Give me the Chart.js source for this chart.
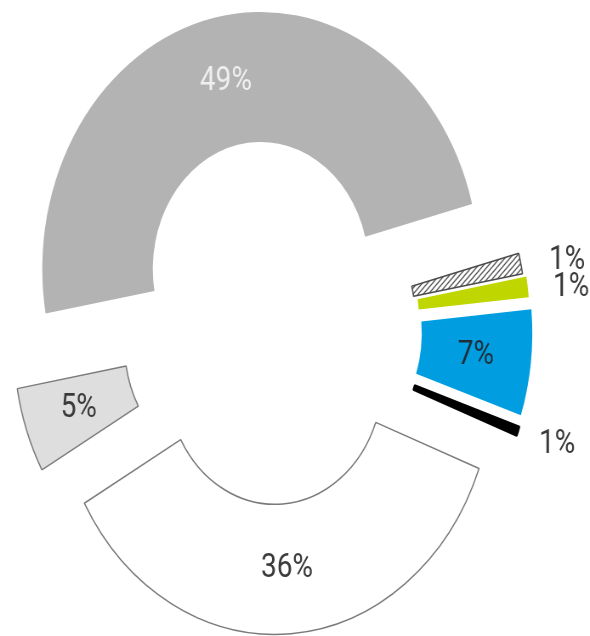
<!DOCTYPE html>
<html>
<head>
<meta charset="utf-8">
<script src="https://cdn.jsdelivr.net/npm/chart.js@4.4.1/dist/chart.umd.min.js"></script>
<style>
  html, body { margin: 0; padding: 0; overflow: hidden; background: #fff; }
  #wrap { width: 694px; height: 636px; transform: scaleX(0.8501); transform-origin: 0 0; }
</style>
</head>
<body>
<div id="wrap"><canvas id="donut" width="694" height="636"></canvas></div>
<script>
// slices, clockwise from the big grey one
const categories = ['Grey', 'Hatched', 'Green', 'Blue', 'Black', 'White', 'Light grey'];
const values = [49.0, 1.3, 1.3, 6.7, 0.6, 36.3, 5.4];

// how far each slice is pulled out (px)
const explode = [60, 43, 47, 50, 51, 50, 49];

function hatch() {
  const c = document.createElement('canvas');
  c.width = 6; c.height = 6;
  const g = c.getContext('2d');
  g.fillStyle = '#fff';
  g.fillRect(0, 0, 6, 6);
  g.strokeStyle = '#555';
  g.lineWidth = 1.3;
  g.beginPath();
  g.moveTo(-1, 7); g.lineTo(7, -1);
  g.moveTo(-1, 1); g.lineTo(1, -1);
  g.moveTo(5, 7); g.lineTo(7, 5);
  g.stroke();
  return g.createPattern(c, 'repeat');
}

const fills = ['#b3b3b3', hatch(), '#bfd600', '#009ee0', '#000000', '#ffffff', '#dedede'];
const borders = ['#b3b3b3', '#4a4a4a', '#bfd600', '#009ee0', '#000000', '#7a7a7a', '#7a7a7a'];
const borderWidths = [0, 1.5, 0, 0, 2, 1.5, 1.5];
const labelColors = ['#efefef', '#3a3a3a', '#3a3a3a', '#1f2f3a', '#3a3a3a', '#3a3a3a', '#3a3a3a'];

const explodePlugin = {
  id: 'explode',
  afterDatasetsUpdate(chart) {
    chart.getDatasetMeta(0).data.forEach((arc, i) => {
      const mid = (arc.startAngle + arc.endAngle) / 2;
      arc.x += Math.cos(mid) * explode[i];
      arc.y += Math.sin(mid) * explode[i];
    });
  }
};

const labelPlugin = {
  id: 'sliceLabels',
  afterDatasetsDraw(chart) {
    const ctx = chart.ctx;
    const area = chart.chartArea;
    const cx0 = (area.left + area.right) / 2;
    const cy0 = (area.top + area.bottom) / 2;
    const total = values.reduce((a, b) => a + b, 0);
    ctx.save();
    ctx.font = '33px Roboto';
    ctx.textBaseline = 'middle';
    chart.getDatasetMeta(0).data.forEach((arc, i) => {
      const pct = values[i] / total * 100;
      const mid = (arc.startAngle + arc.endAngle) / 2;
      let x, y;
      if (pct < 2) {
        // tiny slices get their label outside, to the right
        ctx.textAlign = 'left';
        x = cx0 + Math.cos(mid) * 334;
        y = cy0 + Math.sin(mid) * 334 + 5;
      } else {
        ctx.textAlign = 'center';
        const r = (arc.innerRadius + arc.outerRadius) / 2;
        x = arc.x + Math.cos(mid) * r;
        y = arc.y + Math.sin(mid) * r;
      }
      ctx.fillStyle = labelColors[i];
      ctx.fillText(Math.round(pct) + '%', x, y);
    });
    ctx.restore();
  }
};

new Chart(document.getElementById('donut'), {
  type: 'doughnut',
  data: {
    labels: categories,
    datasets: [{
      data: values,
      backgroundColor: fills,
      borderColor: borders,
      borderWidth: borderWidths
    }]
  },
  options: {
    responsive: false,
    devicePixelRatio: 1,
    animation: false,
    events: [],
    rotation: 260,
    radius: 257,
    cutout: '49.4%',
    layout: { padding: { left: 0, right: 55, top: 19, bottom: 0 } },
    plugins: {
      legend: { display: false },
      tooltip: { enabled: false }
    }
  },
  plugins: [explodePlugin, labelPlugin]
});
</script>
</body>
</html>
